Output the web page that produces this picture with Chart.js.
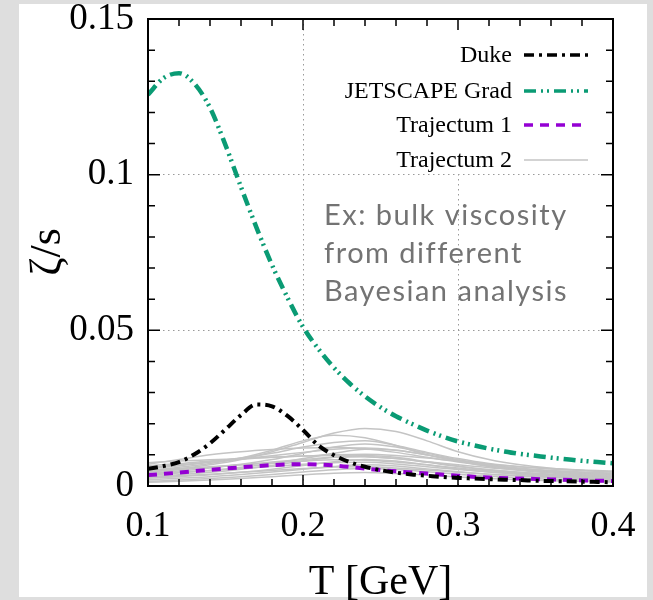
<!DOCTYPE html>
<html>
<head>
<meta charset="utf-8">
<script src="https://cdn.jsdelivr.net/npm/chart.js@4"></script>
<style>
html,body{margin:0;padding:0;background:#dedede}
canvas{display:block}
</style>
</head>
<body>
<canvas id="c" width="653" height="600"></canvas>
<script>
// temperatures (GeV)
const tFine = [0.10,0.11,0.12,0.13,0.14,0.15,0.16,0.17,0.18,0.19,0.20,0.21,0.22,0.23,0.24,0.25,0.26,0.27,0.28,0.29,0.30,0.31,0.32,0.33,0.34,0.35,0.36,0.37,0.38,0.39,0.40];
const tCoarse = [0.10,0.12,0.14,0.16,0.18,0.20,0.22,0.24,0.26,0.28,0.30,0.32,0.34,0.36,0.38,0.40];

// zeta/s
const jetscape = [0.1257,0.1310,0.1326,0.1292,0.1215,0.1095,0.0960,0.0830,0.0710,0.0605,0.0511,0.0440,0.0380,0.0330,0.0288,0.0253,0.0224,0.0200,0.0178,0.0159,0.0143,0.0131,0.0120,0.0111,0.0103,0.0097,0.0091,0.0086,0.0081,0.0077,0.0073];
const duke = [0.0055,0.0064,0.0077,0.0102,0.0137,0.0182,0.0228,0.0262,0.0256,0.0225,0.0180,0.0130,0.0099,0.0077,0.0062,0.0051,0.0043,0.0037,0.0033,0.0029,0.0026,0.0024,0.0022,0.0020,0.0019,0.0017,0.0016,0.0015,0.0014,0.0013,0.0012];
const traj1 = [0.0035,0.0043,0.0052,0.0060,0.0067,0.0070,0.0066,0.0056,0.0047,0.0040,0.0033,0.0027,0.0024,0.0021,0.0018,0.0016];
const traj2 = [
  [0.0045,0.0055,0.0068,0.0085,0.0110,0.0140,0.0170,0.0185,0.0175,0.0145,0.0110,0.0085,0.0068,0.0057,0.0050,0.0045],
  [0.0050,0.0060,0.0072,0.0090,0.0115,0.0145,0.0163,0.0155,0.0130,0.0100,0.0080,0.0066,0.0057,0.0050,0.0045,0.0042],
  [0.0060,0.0068,0.0078,0.0090,0.0105,0.0125,0.0140,0.0145,0.0130,0.0108,0.0088,0.0072,0.0062,0.0055,0.0050,0.0046],
  [0.0070,0.0085,0.0100,0.0110,0.0117,0.0122,0.0124,0.0120,0.0108,0.0092,0.0077,0.0064,0.0055,0.0048,0.0043,0.0040],
  [0.0040,0.0048,0.0058,0.0070,0.0085,0.0105,0.0125,0.0135,0.0125,0.0105,0.0085,0.0068,0.0056,0.0047,0.0041,0.0037],
  [0.0055,0.0065,0.0076,0.0087,0.0097,0.0108,0.0118,0.0122,0.0115,0.0100,0.0082,0.0066,0.0053,0.0045,0.0039,0.0035],
  [0.0035,0.0042,0.0050,0.0060,0.0072,0.0088,0.0105,0.0118,0.0115,0.0100,0.0080,0.0062,0.0050,0.0042,0.0036,0.0032],
  [0.0065,0.0072,0.0080,0.0086,0.0092,0.0096,0.0098,0.0095,0.0088,0.0078,0.0068,0.0059,0.0052,0.0046,0.0041,0.0038],
  [0.0030,0.0036,0.0044,0.0054,0.0066,0.0080,0.0092,0.0098,0.0092,0.0078,0.0064,0.0052,0.0043,0.0036,0.0031,0.0028],
  [0.0045,0.0052,0.0060,0.0068,0.0077,0.0085,0.0092,0.0094,0.0088,0.0076,0.0063,0.0052,0.0044,0.0038,0.0034,0.0031],
  [0.0025,0.0030,0.0036,0.0044,0.0054,0.0066,0.0078,0.0085,0.0080,0.0068,0.0055,0.0045,0.0037,0.0031,0.0027,0.0024],
  [0.0050,0.0056,0.0062,0.0068,0.0074,0.0080,0.0084,0.0083,0.0077,0.0068,0.0058,0.0049,0.0042,0.0037,0.0033,0.0030],
  [0.0020,0.0025,0.0030,0.0037,0.0045,0.0054,0.0063,0.0068,0.0064,0.0055,0.0046,0.0038,0.0032,0.0027,0.0023,0.0020],
  [0.0038,0.0044,0.0050,0.0056,0.0063,0.0070,0.0075,0.0076,0.0071,0.0062,0.0053,0.0045,0.0039,0.0034,0.0030,0.0027],
  [0.0015,0.0019,0.0024,0.0030,0.0037,0.0045,0.0052,0.0056,0.0053,0.0046,0.0038,0.0031,0.0026,0.0022,0.0019,0.0016],
  [0.0028,0.0033,0.0038,0.0044,0.0050,0.0056,0.0061,0.0062,0.0058,0.0051,0.0044,0.0038,0.0033,0.0029,0.0026,0.0023],
  [0.0075,0.0080,0.0084,0.0088,0.0092,0.0096,0.0100,0.0102,0.0098,0.0090,0.0080,0.0070,0.0062,0.0056,0.0051,0.0048],
  [0.0012,0.0015,0.0019,0.0024,0.0030,0.0036,0.0041,0.0043,0.0040,0.0035,0.0029,0.0024,0.0020,0.0017,0.0015,0.0013]
];

const xTickLabels = ['0.1','0.2','0.3','0.4'];
const yTickLabels = ['0','0.05','0.1','0.15'];
const legendNames = ['Duke','JETSCAPE Grad','Trajectum 1','Trajectum 2'];
const noteLines = ['Ex: bulk viscosity','from different','Bayesian analysis'];

const SERIF = '"Liberation Serif", "Times New Roman", serif';
const styles = [
  {color:'#000000', width:4, dash:[10,5,3,5]},
  {color:'#0a9b74', width:4.5, dash:[12,5,2,4,2,5]},
  {color:'#9400d3', width:4, dash:[9,7]},
  {color:'#c4c4c4', width:1.5, dash:[]}
];

function pts(xs, ys){ return xs.map((x,i)=>({x:x, y:ys[i]})) }

const datasets = [];
datasets.push({data:pts(tFine, jetscape), borderColor:styles[1].color, borderWidth:styles[1].width, borderDash:styles[1].dash, order:1});
datasets.push({data:pts(tFine, duke), borderColor:styles[0].color, borderWidth:styles[0].width, borderDash:styles[0].dash, order:2});
datasets.push({data:pts(tCoarse, traj1), borderColor:styles[2].color, borderWidth:styles[2].width, borderDash:styles[2].dash, order:3});
traj2.forEach(ys=>{
  datasets.push({data:pts(tCoarse, ys), borderColor:styles[3].color, borderWidth:styles[3].width, order:10});
});

// gray page with white sheet
const sheet = {
  id:'sheet',
  beforeDraw(chart){
    const ctx = chart.ctx;
    ctx.save();
    ctx.fillStyle = '#dedede'; ctx.fillRect(0,0,chart.width,chart.height);
    ctx.fillStyle = '#ffffff'; ctx.fillRect(19,4,628,593);
    ctx.restore();
  }
};

// opaque key box hides grid
const keyBox = {
  id:'keyBox',
  beforeDatasetsDraw(chart){
    const a = chart.chartArea, ctx = chart.ctx;
    ctx.save();
    ctx.fillStyle = '#ffffff';
    ctx.fillRect(a.left+197, a.top+1, a.right-a.left-198, 154);
    ctx.restore();
  }
};

// frame, inward ticks, key, note, axis titles
const decor = {
  id:'decor',
  afterDatasetsDraw(chart){
    const a = chart.chartArea, ctx = chart.ctx;
    const xs = chart.scales.x, ys = chart.scales.y;
    ctx.save();
    ctx.strokeStyle = '#000'; ctx.lineWidth = 2;
    ctx.strokeRect(a.left, a.top, a.right-a.left, a.bottom-a.top);
    ctx.lineWidth = 1.5;
    ctx.beginPath();
    for(let i=0;i<=15;i++){
      const v = 0.1 + i*0.02;
      const px = xs.getPixelForValue(v);
      const len = (i%5===0) ? 11 : 7;
      ctx.moveTo(px, a.bottom); ctx.lineTo(px, a.bottom-len);
      ctx.moveTo(px, a.top); ctx.lineTo(px, a.top+len);
    }
    for(let i=0;i<=15;i++){
      const v = i*0.01;
      const py = ys.getPixelForValue(v);
      const len = (i%5===0) ? 12 : 7;
      ctx.moveTo(a.left, py); ctx.lineTo(a.left+len, py);
      ctx.moveTo(a.right, py); ctx.lineTo(a.right-len, py);
    }
    ctx.stroke();

    // key
    const rowsY = [a.top+36, a.top+72, a.top+106, a.top+141];
    ctx.font = '24px ' + SERIF;
    ctx.textAlign = 'right'; ctx.textBaseline = 'middle'; ctx.fillStyle = '#000';
    legendNames.forEach((name,k)=>{
      const y = rowsY[k];
      ctx.fillText(name, a.left+364, y+1);
      ctx.save();
      ctx.strokeStyle = styles[k].color;
      ctx.lineWidth = k===3 ? 1.5 : 3.5;
      ctx.setLineDash(styles[k].dash);
      ctx.beginPath(); ctx.moveTo(a.left+376, y); ctx.lineTo(a.left+440, y); ctx.stroke();
      ctx.restore();
    });

    // note
    ctx.font = '29px Lato, "Noto Sans", sans-serif';
    ctx.letterSpacing = '1.5px';
    ctx.textAlign = 'left'; ctx.textBaseline = 'alphabetic'; ctx.fillStyle = '#737373';
    noteLines.forEach((s,i)=>ctx.fillText(s, a.left+176, a.top+206+i*38));
    ctx.letterSpacing = '0px';

    // axis titles
    ctx.fillStyle = '#000';
    ctx.font = '42px ' + SERIF;
    ctx.textAlign = 'center';
    ctx.fillText('T [GeV]', (a.left+a.right)/2, 594);
    ctx.save();
    ctx.translate(60, 252);
    ctx.rotate(-Math.PI/2);
    ctx.font = '44px ' + SERIF;
    ctx.fillText('\u03b6/s', 0, 0);
    ctx.restore();
    ctx.restore();
  }
};

const gridColor = c => (c.index>0 && c.index<3) ? '#9a9a9a' : 'rgba(0,0,0,0)';

new Chart(document.getElementById('c'), {
  type:'line',
  data:{datasets:datasets},
  plugins:[sheet, keyBox, decor],
  options:{
    responsive:false,
    animation:false,
    events:[],
    layout:{padding:{top:19, right:40, left:0, bottom:0}},
    elements:{
      point:{radius:0},
      line:{tension:0.4, cubicInterpolationMode:'monotone', fill:false}
    },
    plugins:{legend:{display:false}, tooltip:{enabled:false}},
    scales:{
      x:{
        type:'linear', min:0.1, max:0.4,
        afterFit(s){ s.height = 114; s.paddingLeft = 0; s.paddingRight = 0; },
        ticks:{stepSize:0.1, padding:19, color:'#000', font:{family:SERIF, size:36},
          callback:(v,i)=>xTickLabels[i], maxRotation:0},
        grid:{color:gridColor, lineWidth:1, drawTicks:false},
        border:{display:false, dash:[1.5,3.5]}
      },
      y:{
        type:'linear', min:0, max:0.15,
        afterFit(s){ s.width = 148; s.paddingTop = 0; s.paddingBottom = 0; },
        ticks:{stepSize:0.05, padding:14, color:'#000', font:{family:SERIF, size:37},
          callback:(v,i)=>yTickLabels[i]},
        grid:{color:gridColor, lineWidth:1, drawTicks:false},
        border:{display:false, dash:[1.5,3.5]}
      }
    }
  }
});
</script>
</body>
</html>
